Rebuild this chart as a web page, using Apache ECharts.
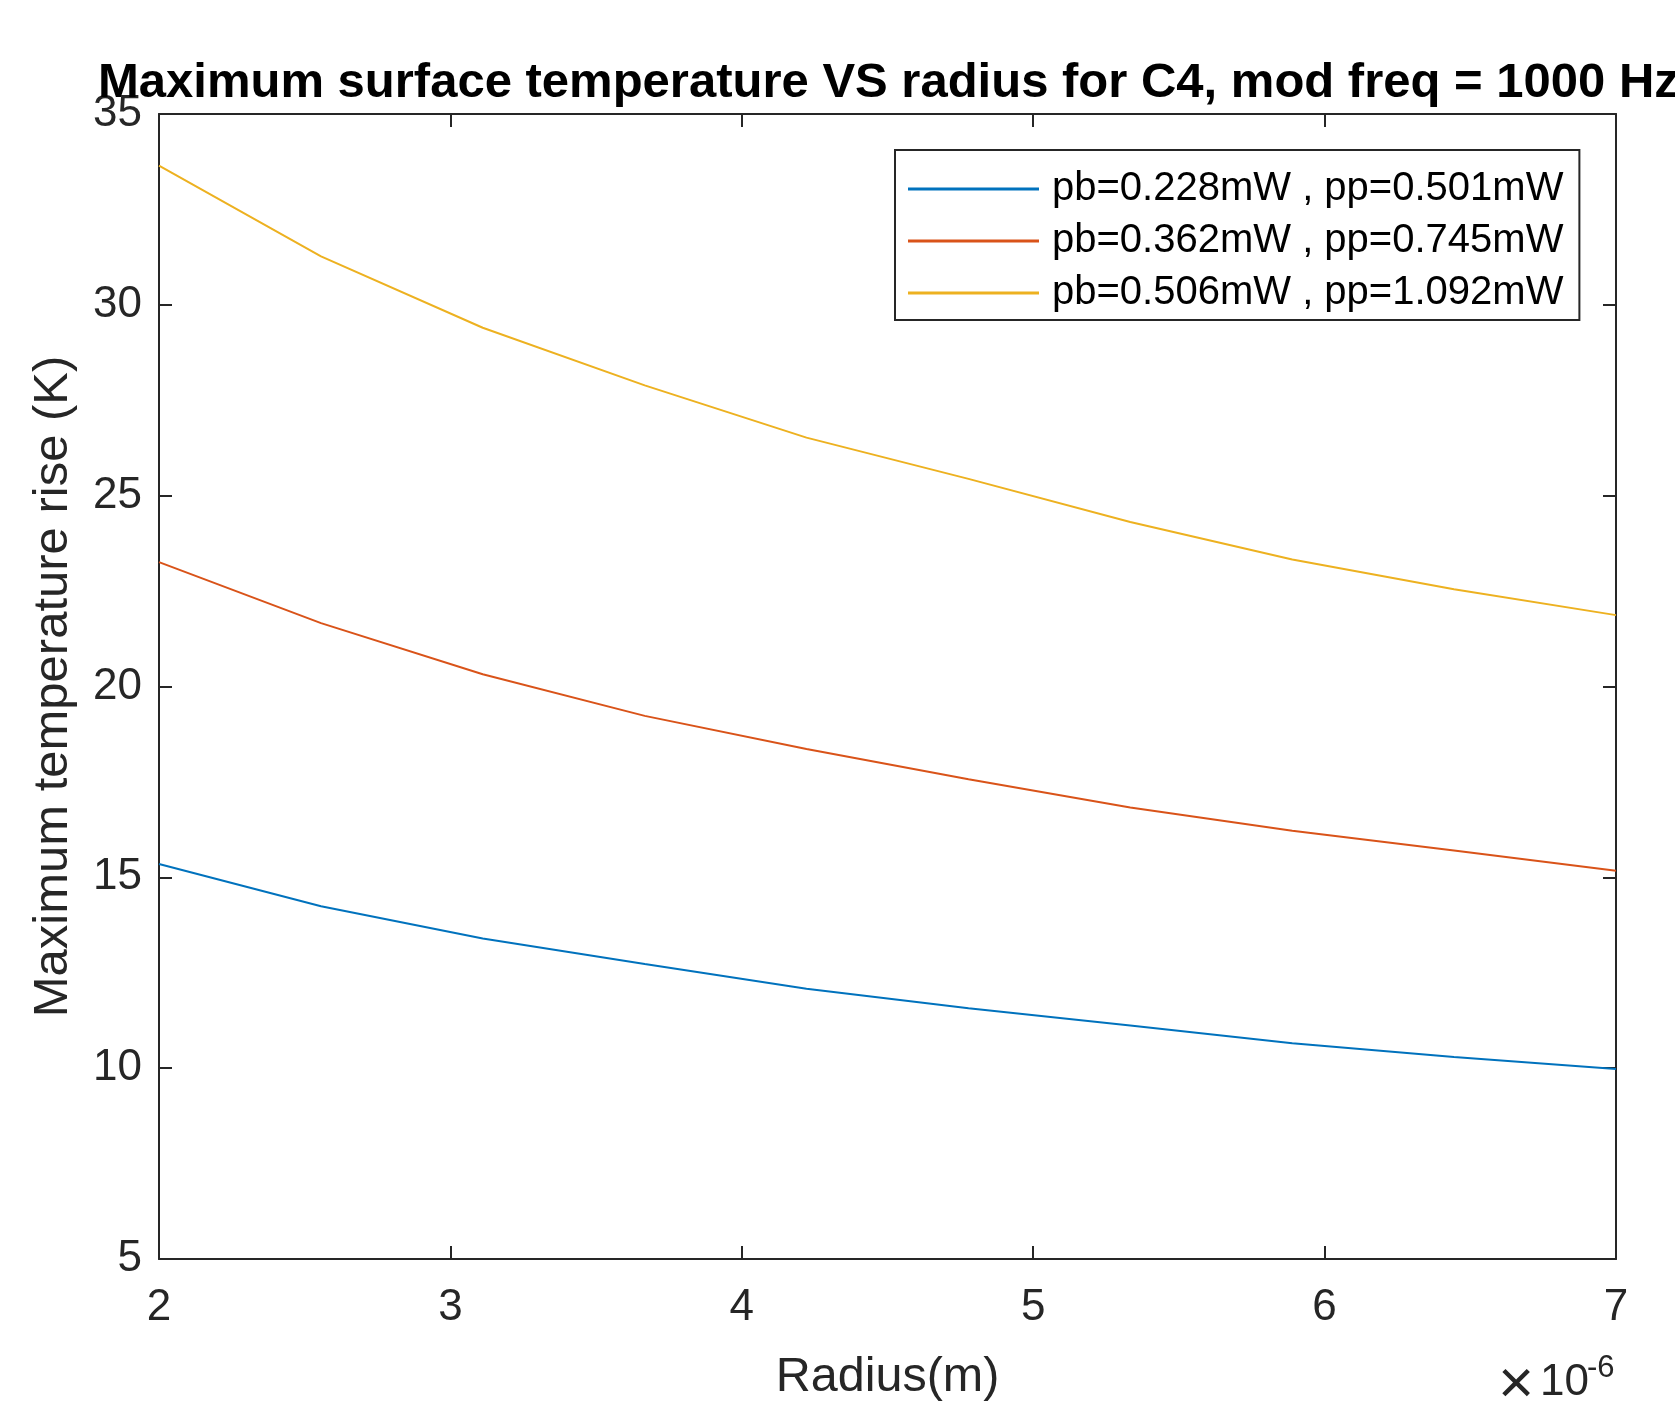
<!DOCTYPE html>
<html>
<head>
<meta charset="utf-8">
<title>Maximum surface temperature VS radius</title>
<script src="https://cdn.jsdelivr.net/npm/echarts@6/dist/echarts.min.js"></script>
<style>
  html, body { margin: 0; padding: 0; background: #fff; }
  #chart { width: 1675px; height: 1407px; }
</style>
</head>
<body>
<div id="chart"></div>
<script>
// 半径 (单位 1e-6 m)，10个采样点
const radius = [2, 2.556, 3.111, 3.667, 4.222, 4.778, 5.333, 5.889, 6.444, 7];
// 三组功率下的最大温升 (K)
const tempLow = [15.35, 14.24, 13.40, 12.73, 12.08, 11.57, 11.12, 10.65, 10.29, 9.98];
const tempMid = [23.26, 21.66, 20.32, 19.23, 18.36, 17.57, 16.83, 16.22, 15.70, 15.17];
const tempHigh = [33.65, 31.27, 29.40, 27.89, 26.52, 25.44, 24.31, 23.33, 22.55, 21.87];
const seriesNames = [
  'pb=0.228mW , pp=0.501mW',
  'pb=0.362mW , pp=0.745mW',
  'pb=0.506mW , pp=1.092mW'
];
const xTicks = [2, 3, 4, 5, 6, 7];
const yTicks = [5, 10, 15, 20, 25, 30, 35];

const FONT = '"Liberation Sans", Arial, Helvetica, sans-serif';
const AXIS_COLOR = '#262626';
const colors = ['#0072BD', '#D95319', '#EDB120'];

const chart = echarts.init(document.getElementById('chart'));

// 把 x 和 y 组合成 [x, y] 点
function toPoints(ys) {
  return radius.map((r, i) => [r, ys[i]]);
}

// 主坐标轴 + 顶部/右侧镜像轴 (只显示朝内刻度)
function baseAxis(extra) {
  return Object.assign({
    type: 'value',
    axisLine: { show: true, onZero: false, lineStyle: { color: AXIS_COLOR, width: 2 } },
    axisTick: { show: true, inside: true, length: 13, lineStyle: { color: AXIS_COLOR, width: 2 } },
    splitLine: { show: false }
  }, extra);
}

const option = {
  backgroundColor: '#fff',
  animation: false,
  color: colors,
  title: {
    text: 'Maximum surface temperature VS radius for C4, mod freq = 1000 Hz',
    left: 98,
    top: 59,
    padding: 0,
    textStyle: { fontFamily: FONT, fontSize: 49, fontWeight: 'bold', color: '#000' }
  },
  grid: { left: 159, right: 59, top: 114, bottom: 147, containLabel: false },
  legend: {
    orient: 'vertical',
    left: 895,
    top: 150,
    padding: [19, 16, 7, 13],
    itemGap: 12,
    itemWidth: 131,
    itemHeight: 3,
    borderColor: AXIS_COLOR,
    borderWidth: 2,
    backgroundColor: '#fff',
    data: seriesNames.map(n => ({ name: n, icon: 'rect' })),
    textStyle: { fontFamily: FONT, fontSize: 40, color: '#000', padding: [0, 0, 0, 8], lineHeight: 40 }
  },
  xAxis: [
    baseAxis({
      min: 2, max: 7, interval: 1,
      position: 'bottom',
      name: 'Radius(m)',
      nameLocation: 'middle',
      nameGap: 94,
      nameTextStyle: { fontFamily: FONT, fontSize: 48.5, color: AXIS_COLOR },
      axisLabel: {
        margin: 27, fontFamily: FONT, fontSize: 44, color: AXIS_COLOR,
        formatter: v => (xTicks.indexOf(v) >= 0 ? String(v) : '')
      }
    }),
    baseAxis({
      min: 2, max: 7, interval: 1,
      position: 'top',
      axisLabel: { show: false }
    })
  ],
  yAxis: [
    baseAxis({
      min: 5, max: 35, interval: 5,
      position: 'left',
      name: 'Maximum temperature rise (K)',
      nameLocation: 'middle',
      nameGap: 81,
      nameTextStyle: { fontFamily: FONT, fontSize: 49, color: AXIS_COLOR },
      axisLabel: {
        margin: 17, fontFamily: FONT, fontSize: 44, color: AXIS_COLOR,
        formatter: v => (yTicks.indexOf(v) >= 0 ? String(v) : '')
      }
    }),
    baseAxis({
      min: 5, max: 35, interval: 5,
      position: 'right',
      axisLabel: { show: false }
    })
  ],
  // x 轴的 ×10^-6 指数标注，分成三段好控制位置
  graphic: [
    {
      type: 'text', x: 1516, y: 1386, silent: true,
      style: { text: '×', font: '62px ' + FONT, fill: AXIS_COLOR, align: 'center', verticalAlign: 'middle' }
    },
    {
      type: 'text', x: 1589, y: 1383, silent: true,
      style: { text: '10', font: '44px ' + FONT, fill: AXIS_COLOR, align: 'right', verticalAlign: 'middle' }
    },
    {
      type: 'text', x: 1587, y: 1368, silent: true,
      style: { text: '-6', font: '31px ' + FONT, fill: AXIS_COLOR, align: 'left', verticalAlign: 'middle' }
    }
  ],
  series: [
    { name: seriesNames[0], type: 'line', data: toPoints(tempLow) },
    { name: seriesNames[1], type: 'line', data: toPoints(tempMid) },
    { name: seriesNames[2], type: 'line', data: toPoints(tempHigh) }
  ].map(s => Object.assign(s, {
    symbol: 'none',
    smooth: false,
    lineStyle: { width: 2 },
    xAxisIndex: 0,
    yAxisIndex: 0
  }))
};

chart.setOption(option);
</script>
</body>
</html>
